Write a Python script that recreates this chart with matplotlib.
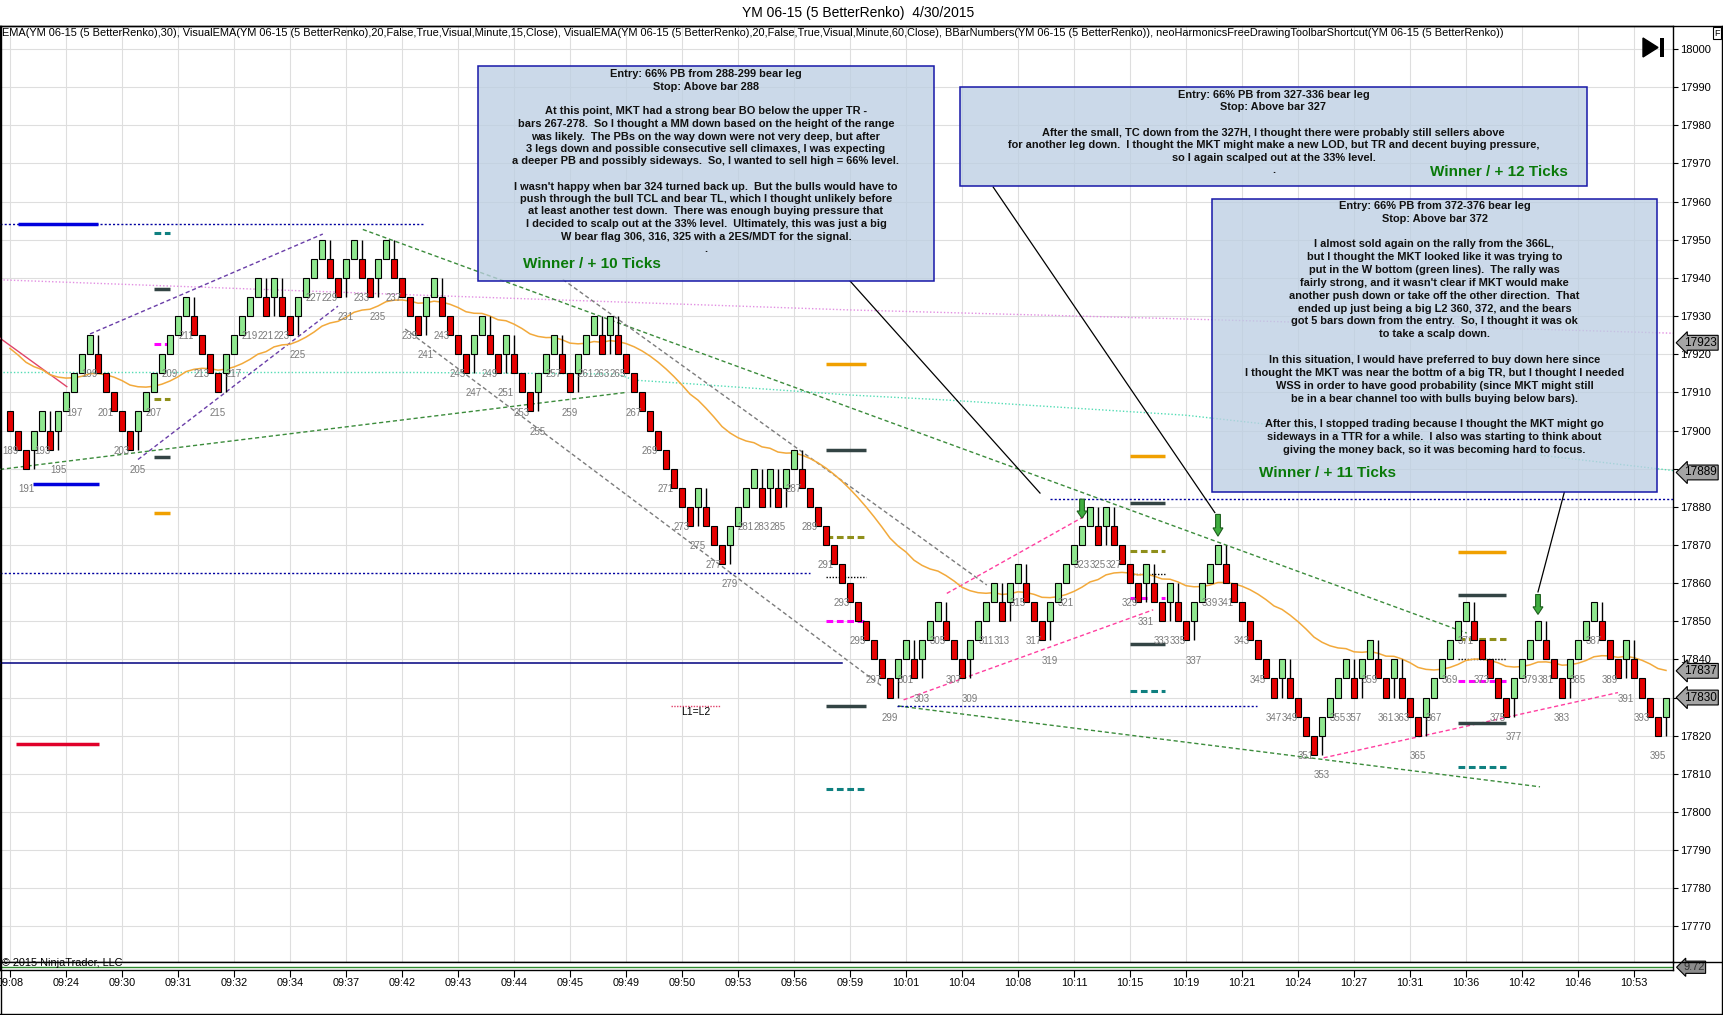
import numpy as np
import matplotlib
matplotlib.use("Agg")
import matplotlib.pyplot as plt
from matplotlib.patches import Rectangle, Polygon
from matplotlib.lines import Line2D
from matplotlib.transforms import IdentityTransform, blended_transform_factory

plt.rcParams['font.family'] = ['Liberation Sans', 'DejaVu Sans']

# ------------------------------------------------------------------ data
first_bar = 189
first_open = 17905
BRICK = 5
closes = [
    17900, 17895, 17890, 17900, 17905, 17895, 17905, 17910, 17915, 17920,   # 189-198
    17925, 17915, 17910, 17905, 17900, 17895, 17905, 17910, 17915, 17920,   # 199-208
    17925, 17930, 17935, 17925, 17920, 17915, 17910, 17920, 17925, 17930,   # 209-218
    17935, 17940, 17930, 17940, 17930, 17925, 17935, 17940, 17945, 17950,   # 219-228
    17940, 17935, 17945, 17950, 17940, 17935, 17945, 17950, 17940, 17935,   # 229-238
    17930, 17925, 17935, 17940, 17930, 17925, 17920, 17915, 17925, 17930,   # 239-248
    17920, 17915, 17925, 17915, 17910, 17905, 17915, 17920, 17925, 17915,   # 249-258
    17910, 17920, 17925, 17930, 17920, 17930, 17920, 17915, 17910, 17905,   # 259-268
    17900, 17895, 17890, 17885, 17880, 17875, 17885, 17875, 17870, 17865,   # 269-278
    17875, 17880, 17885, 17890, 17880, 17890, 17880, 17890, 17895, 17885,   # 279-288
    17880, 17875, 17870, 17865, 17860, 17855, 17850, 17845, 17840, 17835,   # 289-298
    17830, 17840, 17845, 17835, 17845, 17850, 17855, 17845, 17840, 17835,   # 299-308
    17845, 17850, 17855, 17860, 17850, 17860, 17865, 17855, 17850, 17845,   # 309-318
    17855, 17860, 17865, 17870, 17875, 17880, 17870, 17880, 17870, 17865,   # 319-328
    17860, 17855, 17865, 17855, 17850, 17860, 17850, 17845, 17855, 17860,   # 329-338
    17865, 17870, 17860, 17855, 17850, 17845, 17840, 17835, 17830, 17840,   # 339-348
    17830, 17825, 17820, 17815, 17825, 17830, 17835, 17840, 17830, 17840,   # 349-358
    17845, 17835, 17830, 17840, 17830, 17825, 17820, 17830, 17835, 17840,   # 359-368
    17845, 17850, 17855, 17845, 17840, 17835, 17830, 17825, 17835, 17840,   # 369-378
    17845, 17850, 17840, 17835, 17830, 17840, 17845, 17850, 17855, 17845,   # 379-388
    17840, 17835, 17845, 17835, 17830, 17825, 17820, 17830,                 # 389-396
]
EMA_PERIOD = 30
ema_seed = 17923.0

time_label_bars = list(range(189, 393, 7))
time_labels = ['09:08', '09:24', '09:30', '09:31', '09:32', '09:34', '09:37', '09:42',
               '09:43', '09:44', '09:45', '09:49', '09:50', '09:53', '09:56', '09:59',
               '10:01', '10:04', '10:08', '10:11', '10:15', '10:19', '10:21', '10:24',
               '10:27', '10:31', '10:36', '10:42', '10:46', '10:53']
price_ticks = list(range(17770, 18001, 10))

# VisualEMA lines (bar, value)
ema15_bars = [187.75, 240, 265, 267, 273, 279, 288, 294, 306, 336, 366, 396.9]
ema15_vals = [17915.2, 17915.2, 17914.8, 17913.2, 17912.4, 17911.5, 17910.2, 17909.3,
              17908.0, 17904.0, 17897.0, 17889.5]
ema60_bars = [187.75, 240, 294, 340, 396.9]
ema60_vals = [17939.5, 17935.5, 17931.6, 17929.0, 17925.5]

# drawn trend lines: (bar0, price0, bar1, price1)
green_lines = [(187.75, 17889.8, 266.1, 17910.0),
               (233.1, 17952.7, 371.1, 17846.9),
               (300.0, 17827.8, 380.25, 17806.6)]
purple_lines = [(199.0, 17925.3, 228.1, 17951.5),
                (205.0, 17892.4, 230.0, 17932.6)]
gray_lines = [(238.4, 17926.6, 298.1, 17832.8),
              (258.1, 17939.6, 311.1, 17859.5)]
pink_lines = [(306.1, 17857.3, 323.2, 17877.4),
              (300.7, 17829.4, 331.9, 17853.0),
              (353.2, 17814.2, 390.0, 17831.3)]
red_lines = [(187.75, 17924.2, 196.1, 17911.5)]

# horizontal levels: (price, bar0, bar1)
blue_dotted = [(17954.0, 187.75, 240.9), (17862.7, 187.75, 289.0),
               (17882.0, 319.0, 396.9), (17827.8, 299.9, 344.9)]
navy_solid = [(17839.0, 187.75, 293.0)]
blue_thick = [(17954.0, 190.0, 200.0), (17886.0, 191.9, 200.1)]
red_thick = [(17817.9, 189.8, 200.1)]

# projection dashes (columns)
proj_cols = [(207.0, 209.0), (291.0, 296.0), (329.0, 333.4), (370.0, 376.0)]
proj_orange = [17878.5, 17917.5, 17893.4, 17868.2]
proj_gray1 = [17893.1, 17894.9, 17881.1, 17857.0]
proj_olive = [17908.2, 17872.2, 17868.4, 17845.4]
proj_dotted = [None, 17861.5, 17862.4, 17840.0]
proj_magenta = [17922.6, 17850.1, 17856.2, 17834.4]
proj_gray2 = [17937.0, 17827.8, 17844.0, 17823.3]
proj_teal = [17951.7, 17806.0, 17831.7, 17811.9]

# annotation lines (bar, price) and entry arrows (bar, top, tip)
note_lines = [(294.0, 17939.2, 317.75, 17883.6),
              (311.9, 17963.8, 339.6, 17878.5),
              (383.3, 17883.9, 380.0, 17857.7)]
entry_arrows = [(323, 17882.0, 17877.0), (340, 17878.0, 17872.3), (380, 17857.0, 17851.8)]

l1l2 = (17827.8, 271.6, 277.75)
right_markers = [17923, 17889, 17837, 17830]
ind_value = 9.72

box1_lines = [
    "Entry: 66% PB from 288-299 bear leg",
    "Stop: Above bar 288",
    "",
    "At this point, MKT had a strong bear BO below the upper TR -",
    "bars 267-278.  So I thought a MM down based on the height of the range",
    "was likely.  The PBs on the way down were not very deep, but after",
    "3 legs down and possible consecutive sell climaxes, I was expecting",
    "a deeper PB and possibly sideways.  So, I wanted to sell high = 66% level.",
    "",
    "I wasn't happy when bar 324 turned back up.  But the bulls would have to",
    "push through the bull TCL and bear TL, which I thought unlikely before",
    "at least another test down.  There was enough buying pressure that",
    "I decided to scalp out at the 33% level.  Ultimately, this was just a big",
    "W bear flag 306, 316, 325 with a 2ES/MDT for the signal.",
    ".",
]
box2_lines = [
    "Entry: 66% PB from 327-336 bear leg",
    "Stop: Above bar 327",
    "",
    "After the small, TC down from the 327H, I thought there were probably still sellers above",
    "for another leg down.  I thought the MKT might make a new LOD, but TR and decent buying pressure,",
    "so I again scalped out at the 33% level.",
    ".",
]
box3_lines = [
    "Entry: 66% PB from 372-376 bear leg",
    "Stop: Above bar 372",
    "",
    "I almost sold again on the rally from the 366L,",
    "but I thought the MKT looked like it was trying to",
    "put in the W bottom (green lines).  The rally was",
    "fairly strong, and it wasn't clear if MKT would make",
    "another push down or take off the other direction.  That",
    "ended up just being a big L2 360, 372, and the bears",
    "got 5 bars down from the entry.  So, I thought it was ok",
    "to take a scalp down.",
    "",
    "In this situation, I would have preferred to buy down here since",
    "I thought the MKT was near the bottm of a big TR, but I thought I needed",
    "WSS in order to have good probability (since MKT might still",
    "be in a bear channel too with bulls buying below bars).",
    "",
    "After this, I stopped trading because I thought the MKT might go",
    "sideways in a TTR for a while.  I also was starting to think about",
    "giving the money back, so it was becoming hard to focus.",
]
winner_texts = ["Winner / + 10 Ticks", "Winner / + 12 Ticks", "Winner / + 11 Ticks"]

title = "YM 06-15 (5 BetterRenko)  4/30/2015"
header = ("EMA(YM 06-15 (5 BetterRenko),30), VisualEMA(YM 06-15 (5 BetterRenko),20,False,True,"
          "Visual,Minute,15,Close), VisualEMA(YM 06-15 (5 BetterRenko),20,False,True,Visual,"
          "Minute,60,Close), BBarNumbers(YM 06-15 (5 BetterRenko)), "
          "neoHarmonicsFreeDrawingToolbarShortcut(YM 06-15 (5 BetterRenko))")

# ------------------------------------------------------------------ figure
W, H = 1723, 1015
fig = plt.figure(figsize=(W / 100, H / 100), dpi=100)
fig.patch.set_facecolor('white')
PX = IdentityTransform()

def pline(x0, y0, x1, y1, **kw):
    fig.add_artist(Line2D([x0, x1], [H - y0, H - y1], transform=PX, **kw))

def ptext(x, y, s, **kw):
    return fig.text(x, H - y, s, transform=PX, **kw)

AX_L, AX_R, AX_T, AX_B, IND_B = 0, 1673, 26, 962, 970
X0, X1 = 187.75, 396.875
Y0, Y1 = 17760.68, 18006.03

ax = fig.add_axes([AX_L / W, 1 - AX_B / H, (AX_R - AX_L) / W, (AX_B - AX_T) / H])
ax.set_xlim(X0, X1)
ax.set_ylim(Y0, Y1)
ax.set_facecolor('white')
for s in ax.spines.values():
    s.set_color('black')
    s.set_linewidth(1)
ax.yaxis.tick_right()
ax.set_yticks(price_ticks)
ax.set_yticklabels([str(p) for p in price_ticks])
ax.tick_params(axis='y', direction='out', length=3.6, width=0.8, labelsize=8, pad=1.5,
               colors='black')
ax.set_xticks(time_label_bars)
ax.tick_params(axis='x', length=0, labelbottom=False)
ax.grid(True, color='#dedede', lw=0.8, zorder=0)
ax.set_axisbelow(True)

# --- candles (Renko bricks)
bars = np.arange(first_bar, first_bar + len(closes))
opens, lows, highs = [], [], []
prev_dir = -1
for i, c in enumerate(closes):
    if i == 0:
        o, d, rev = first_open, -1, False
    else:
        d = 1 if c > closes[i - 1] else -1
        o = c - BRICK * d
        rev = d != prev_dir
    lo, hi = min(o, c), max(o, c)
    if rev:
        if d > 0:
            lo = closes[i - 1]
        else:
            hi = closes[i - 1]
    opens.append(o); lows.append(lo); highs.append(hi)
    prev_dir = d
opens = np.array(opens, float); closes_a = np.array(closes, float)
lows = np.array(lows, float); highs = np.array(highs, float)
colors = np.where(closes_a > opens, '#8fe88f', '#e60000')
ax.vlines(bars, lows, highs, color='black', lw=1, zorder=4)
ax.bar(bars, closes_a - opens, bottom=opens, width=0.72, color=colors,
       edgecolor='black', linewidth=0.8, zorder=5)

# bar numbers
for b, lo in zip(bars, lows):
    if b % 2 == 1:
        ax.text(b, lo - 5.3, str(b), ha='center', va='center', fontsize=7,
                color='#7a7a7a', zorder=6)

# --- EMA(30)
ema = []
e = ema_seed
for c in closes:
    e += (c - e) * 2.0 / (EMA_PERIOD + 1)
    ema.append(e)
ax.plot(bars, ema, color='#f2a93b', lw=1.1, zorder=3)

ax.plot(ema15_bars, ema15_vals, color='#52dcb4', lw=1, ls=(0, (1, 1.5)), zorder=2)
ax.plot(ema60_bars, ema60_vals, color='#e28ee2', lw=1, ls=(0, (1, 1.5)), zorder=2)

def seglines(lst, color, ls, lw=1, z=2.6):
    for b0, p0, b1, p1 in lst:
        ax.plot([b0, b1], [p0, p1], color=color, ls=ls, lw=lw, zorder=z)

seglines(green_lines, '#3c8c3c', (0, (3, 2)))
seglines(purple_lines, '#6a3ea8', (0, (3, 2)))
seglines(gray_lines, '#7c7c7c', (0, (3, 2)))
seglines(pink_lines, '#ff3fa0', (0, (3, 2)))
seglines(red_lines, '#e04468', '-', lw=1)

for p, b0, b1 in blue_dotted:
    ax.plot([b0, b1], [p, p], color='#0000a0', lw=1, ls=(0, (1.5, 1.5)), zorder=2.7)
for p, b0, b1 in navy_solid:
    ax.plot([b0, b1], [p, p], color='#000080', lw=1.1, zorder=2.7)
for p, b0, b1 in blue_thick:
    ax.plot([b0, b1], [p, p], color='#0000dd', lw=2.5, zorder=2.8, solid_capstyle='butt')
for p, b0, b1 in red_thick:
    ax.plot([b0, b1], [p, p], color='#e0002a', lw=2.5, zorder=2.8, solid_capstyle='butt')

# projection columns
def projrow(vals, color, ls, lw):
    for (b0, b1), v in zip(proj_cols, vals):
        if v is None:
            continue
        ax.plot([b0, b1], [v, v], color=color, ls=ls, lw=lw, zorder=2.9,
                solid_capstyle='butt', dash_capstyle='butt')

projrow(proj_orange, '#f0a000', '-', 2.5)
projrow(proj_gray1, '#334444', '-', 2.5)
projrow(proj_gray2, '#334444', '-', 2.5)
projrow(proj_olive, '#8f8f1a', (0, (2.2, 1.2)), 2.2)
projrow(proj_dotted, 'black', (0, (1, 1.2)), 1)
projrow(proj_magenta, '#ff00ff', (0, (2.2, 1.2)), 2.2)
projrow(proj_teal, '#0f8080', (0, (2.2, 1.2)), 2.2)

# L1=L2
p, b0, b1 = l1l2
ax.plot([b0, b1], [p, p], color='#e0406a', lw=1, ls=(0, (1, 1)), zorder=3)
ax.text((b0 + b1) / 2, p - 1.6, "L1=L2", ha='center', va='center', fontsize=7.5,
        color='black', zorder=6)

# annotation pointer lines
for b0, p0, b1, p1 in note_lines:
    ax.plot([b0, b1], [p0, p1], color='black', lw=0.9, zorder=7)

# green entry arrows
for b, top, tip in entry_arrows:
    hw, sw = 0.62, 0.3
    hl = (top - tip) * 0.38
    poly = [(b - sw, top), (b + sw, top), (b + sw, tip + hl), (b + hw, tip + hl),
            (b, tip), (b - hw, tip + hl), (b - sw, tip + hl)]
    ax.add_patch(Polygon(poly, closed=True, fc='#3fae3f', ec='#1f5f1f', lw=0.8, zorder=8))

# right-axis value markers
bt = blended_transform_factory(ax.transAxes, ax.transData)
for v in right_markers:
    ax.text(1.0 + 11 / 1673, v, str(v), transform=bt, ha='left', va='center', fontsize=8.5,
            color='black', clip_on=False, zorder=10,
            bbox=dict(boxstyle='larrow,pad=0.12', fc='#a4a4a4', ec='black', lw=0.8))

# --- indicator strip
ax2 = fig.add_axes([AX_L / W, 1 - IND_B / H, (AX_R - AX_L) / W, (IND_B - AX_B) / H], sharex=ax)
ax2.set_ylim(9.0, 11.1)
ax2.axhline(ind_value, color='#2e8b2e', lw=1)
ax2.set_yticks([])
ax2.set_xticks(time_label_bars)
ax2.set_xticklabels(time_labels)
ax2.tick_params(axis='x', direction='out', length=5, width=0.8, labelsize=7.8, pad=0.5)
for s in ax2.spines.values():
    s.set_color('black')
    s.set_linewidth(1)
bt2 = blended_transform_factory(ax2.transAxes, ax2.transData)
ax2.text(1.0 + 10 / 1673, ind_value, f"{ind_value:.2f}", transform=bt2, ha='left', va='center',
         fontsize=8, color='#333333', clip_on=False, zorder=10,
         bbox=dict(boxstyle='larrow,pad=0.1', fc='#8c8c8c', ec='black', lw=0.8))

# --- text boxes
BOX_FC = (0.74, 0.81, 0.89, 0.78)
BOX_EC = '#1818a8'
boxes = [((478, 66, 934, 281), box1_lines, 74.0, 12.5),
         ((960, 87, 1587, 186), box2_lines, 94.8, 12.6),
         ((1212, 199, 1657, 492), box3_lines, 205.7, 12.86)]
for (x0, y0, x1, y1), lines, ly0, dy in boxes:
    fig.add_artist(Rectangle((x0, H - y1), x1 - x0, y1 - y0, transform=PX, fc=BOX_FC,
                             ec=BOX_EC, lw=1.1, zorder=20))
    cx = (x0 + x1) / 2
    for i, s in enumerate(lines):
        if s:
            ptext(cx, ly0 + i * dy, s, ha='center', va='center', fontsize=7.9,
                  fontweight='bold', color='#111111', zorder=21)

winner_pos = [(523, 264, 'left'), (1568, 171.5, 'right'), (1259, 473, 'left')]
for (x, y, ha), s in zip(winner_pos, winner_texts):
    ptext(x, y, s, ha=ha, va='center', fontsize=11, fontweight='bold', color='#0a7a0a',
          zorder=22)

# --- titles, header, frame decorations
ptext(858, 13, title, ha='center', va='center', fontsize=10, color='black')
ptext(2, 32.5, header, ha='left', va='center', fontsize=7.9, color='black', zorder=30)
ptext(2, 962.5, "\u00a9 2015 NinjaTrader, LLC", ha='left', va='center', fontsize=7.8,
      color='black', zorder=30)

fig.add_artist(Polygon([(1643, H - 38), (1643, H - 57), (1658, H - 47.5)], closed=True,
                       transform=PX, fc='black', ec='black', zorder=30))
fig.add_artist(Rectangle((1660, H - 57), 4, 19, transform=PX, fc='black', ec='none', zorder=30))
ptext(1717, 33, "F", ha='center', va='center', fontsize=6.5, color='black', zorder=30,
      bbox=dict(boxstyle='square,pad=0.12', fc='white', ec='black', lw=0.8))

pline(0, 26, 1722, 26, color='black', lw=1)
pline(1722, 26, 1722, 1014, color='black', lw=1)
pline(0.5, 26, 0.5, 1014, color='black', lw=1)
pline(0, 1014, 1722, 1014, color='black', lw=1)
pline(1673, 962, 1722, 962, color='black', lw=1)

fig.savefig("out.png", dpi=100)
